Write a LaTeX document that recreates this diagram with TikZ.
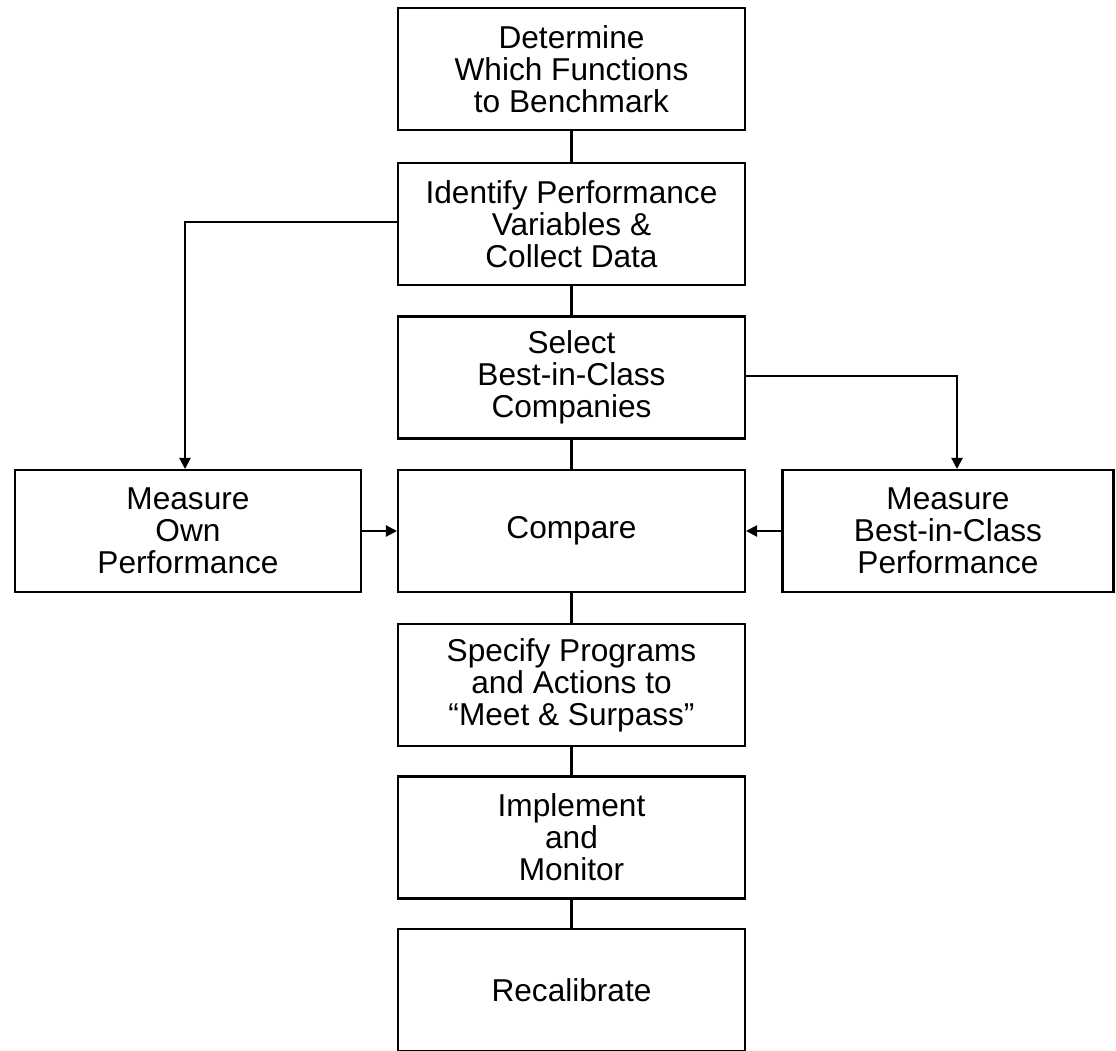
\documentclass[tikz,border=0pt]{standalone}
\usepackage{fontspec}
\setmainfont{Liberation Sans}
\usetikzlibrary{positioning}
\usetikzlibrary{arrows.meta}
\tikzset{>={Triangle[width=2.2mm,length=2.2mm]}}

\begin{document}
\begin{tikzpicture}[x=0.02cm,y=-0.02cm]
    \tikzstyle{bnode} = [draw=black, line width=1.2pt, rectangle, align=center, minimum width=6.94cm, minimum height=2.44cm, inner sep=2pt, font=\fontsize{18}{18.3}\selectfont]
    \tikzstyle{link} = [line width=1.2pt]

    \useasboundingbox (0,0) rectangle (1116,1051);

    \node[bnode] (det) at (571.5,69) {Determine\\ Which Functions\\ to Benchmark};
    \node[bnode] (ident) at (571.5,224) {Identify Performance\\ Variables \&\\ Collect Data};
    \node[bnode] (sel) at (571.5,377.5) {Select\\ Best-in-Class\\ Companies};
    \node[bnode] (cmp) at (571.5,531) {Compare};
    \node[bnode] (spec) at (571.5,685) {Specify Programs\\ and Actions to\\ “Meet \& Surpass”};
    \node[bnode] (impl) at (571.5,837.5) {Implement\\ and\\ Monitor};
    \node[bnode] (recal) at (571.5,990) {Recalibrate};

    \node[bnode, minimum width=6.92cm] (own) at (188,531) {Measure\\ Own\\ Performance};
    \node[bnode, minimum width=6.62cm] (bic) at (948,531) {Measure\\ Best-in-Class\\ Performance};

    \coordinate (lk) at (185,222);
    \coordinate (rk) at (957,376);

    \draw[link] (det) -- (ident);
    \draw[link] (ident) -- (sel);
    \draw[link] (sel) -- (cmp);
    \draw[link] (cmp) -- (spec);
    \draw[link] (spec) -- (impl);
    \draw[link] (impl) -- (recal);

    \draw[link,->] (ident.west |- lk) -- (lk) -- (lk |- own.north);
    \draw[link,->] (sel.east |- rk) -- (rk) -- (rk |- bic.north);
    \draw[link,->] (own) -- (cmp);
    \draw[link,->] (bic) -- (cmp);

  \end{tikzpicture}
\end{document}
